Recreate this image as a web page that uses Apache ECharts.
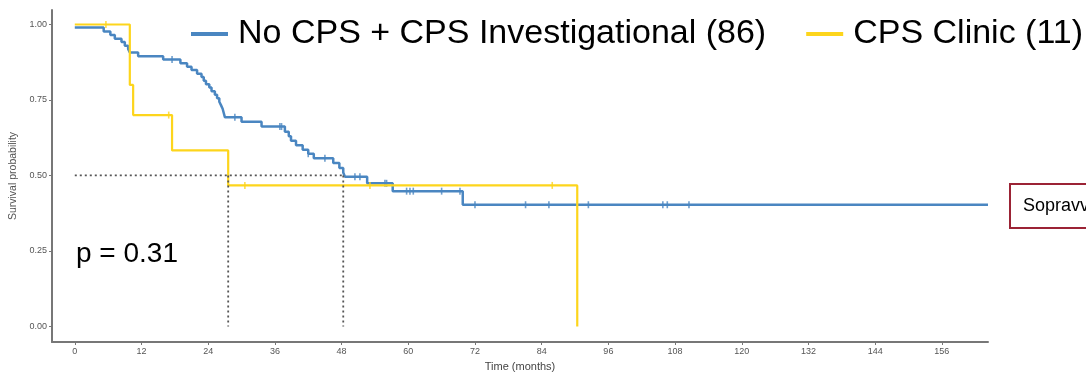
<!DOCTYPE html>
<html>
<head>
<meta charset="utf-8">
<script src="https://cdn.jsdelivr.net/npm/echarts@6/dist/echarts.min.js"></script>
<style>
  html, body { margin: 0; padding: 0; background: #fff; }
  #chart { width: 1086px; height: 373px; }
</style>
</head>
<body>
<div id="chart"></div>
<script>
// Kaplan-Meier steps: time (months) where survival drops to the value
const blueName = 'No CPS + CPS Investigational (86)'
const yellowName = 'CPS Clinic (11)'

const blueTimes = [0, 5.2, 6.4, 7.2, 8.4, 9.0, 9.6, 9.9, 11.4, 15.9, 19.0, 20.2, 21.0, 22.0, 22.8, 23.2, 23.6, 24.2, 24.6, 25.2, 25.6, 26.0, 26.3, 26.6, 26.8, 27.0, 30.0, 33.6, 37.8, 38.5, 38.9, 39.8, 41.0, 42.0, 43.0, 46.5, 47.6, 48.3, 48.6, 52.6, 57.2, 69.8, 164.3]
const blueSurv = [0.990, 0.977, 0.965, 0.953, 0.942, 0.930, 0.919, 0.907, 0.895, 0.884, 0.872, 0.860, 0.849, 0.837, 0.826, 0.814, 0.802, 0.791, 0.779, 0.767, 0.756, 0.744, 0.733, 0.721, 0.707, 0.693, 0.678, 0.662, 0.645, 0.630, 0.615, 0.600, 0.585, 0.572, 0.557, 0.541, 0.525, 0.510, 0.496, 0.474, 0.448, 0.403, 0.403]
const blueCensor = [17.5, 28.8, 36.9, 37.2, 42.0, 45.0, 50.4, 51.3, 55.8, 56.1, 59.7, 60.3, 60.9, 66.0, 69.3, 72.0, 81.1, 85.3, 92.4, 105.8, 106.6, 110.5]

const yellowTimes = [0, 9.9, 10.5, 17.5, 27.6, 90.4]
const yellowSurv = [1.0, 0.80, 0.70, 0.583, 0.467, 0]
const yellowCensor = [5.6, 16.9, 30.6, 53.1, 85.9]

const medianTimes = [27.6, 48.3]
const xTicks = [0, 12, 24, 36, 48, 60, 72, 84, 96, 108, 120, 132, 144, 156]
const yTicks = [0, 0.25, 0.5, 0.75, 1.0]
const pText = 'p = 0.31'

const blueColor = '#4a86c1'
const yellowColor = '#fdd51c'

function survAt(times, surv, t) {
    let s = surv[0]
    for (let i = 0; i < times.length; i++) {
        if (times[i] <= t) s = surv[i]
    }
    return s
}

const myChart = echarts.init(document.getElementById('chart'))

const medianLine = {
    color: '#555',
    width: 1.8,
    type: [2, 3]
}

const option = {
    animation: false,
    grid: {
        left: 52,
        right: 98,
        top: 10,
        bottom: 31,
        containLabel: false,
        outerBoundsMode: 'none'
    },
    legend: {
        data: [blueName, yellowName],
        orient: 'horizontal',
        left: 186,
        top: 12,
        width: 1000,
        icon: 'rect',
        itemWidth: 37,
        itemHeight: 4,
        itemGap: 40,
        textStyle: {
            fontSize: 34,
            fontFamily: 'Liberation Sans',
            color: '#000',
            padding: [0, 0, 0, 5]
        }
    },
    xAxis: {
        type: 'value',
        min: -4.1,
        max: 164.3,
        name: 'Time (months)',
        nameLocation: 'middle',
        nameGap: 19,
        nameTextStyle: { fontSize: 11, color: '#444', fontFamily: 'Liberation Sans' },
        splitLine: { show: false },
        axisLine: { show: true, onZero: false, lineStyle: { color: '#777', width: 2 } },
        axisTick: { show: true, length: 3, customValues: xTicks, lineStyle: { color: '#777' } },
        axisLabel: {
            customValues: xTicks,
            fontSize: 9,
            color: '#555',
            margin: 5,
            fontFamily: 'Liberation Sans'
        }
    },
    yAxis: {
        type: 'value',
        min: -0.0516,
        max: 1.048,
        name: 'Survival probability',
        nameLocation: 'middle',
        nameRotate: 90,
        nameGap: 29,
        nameTextStyle: { fontSize: 10.5, color: '#555', fontFamily: 'Liberation Sans' },
        splitLine: { show: false },
        axisLine: { show: true, onZero: false, lineStyle: { color: '#777', width: 2 } },
        axisTick: { show: true, length: 3, customValues: yTicks, lineStyle: { color: '#777' } },
        axisLabel: {
            customValues: yTicks,
            fontSize: 9,
            color: '#555',
            margin: 5,
            fontFamily: 'Liberation Sans',
            formatter: (v) => v.toFixed(2)
        }
    },
    graphic: [
        {
            type: 'text',
            left: 76,
            top: 240,
            style: { text: pText, fontSize: 28, fill: '#000', fontFamily: 'Liberation Sans' }
        },
        {
            type: 'rect',
            shape: { x: 1010, y: 184, width: 120, height: 44 },
            style: { fill: '#fff', stroke: '#9b2335', lineWidth: 2 }
        },
        {
            type: 'text',
            x: 1023,
            y: 206,
            style: { text: 'Sopravvivenza', fontSize: 18, fill: '#000', fontFamily: 'Liberation Sans', verticalAlign: 'middle' }
        }
    ],
    series: [
        {
            name: blueName,
            type: 'line',
            step: 'end',
            symbol: 'none',
            color: blueColor,
            lineStyle: { color: blueColor, width: 2.5 },
            data: blueTimes.map((t, i) => [t, blueSurv[i]]),
            z: 2
        },
        {
            name: 'blueCensor',
            type: 'scatter',
            symbol: 'rect',
            symbolSize: [1.6, 7],
            itemStyle: { color: blueColor },
            data: blueCensor.map(t => [t, survAt(blueTimes, blueSurv, t)]),
            z: 2
        },
        {
            name: yellowName,
            type: 'line',
            step: 'end',
            symbol: 'none',
            color: yellowColor,
            lineStyle: { color: yellowColor, width: 2.2 },
            data: yellowTimes.map((t, i) => [t, yellowSurv[i]]),
            z: 3
        },
        {
            name: 'yellowCensor',
            type: 'scatter',
            symbol: 'rect',
            symbolSize: [1.6, 7],
            itemStyle: { color: yellowColor },
            data: yellowCensor.map(t => [t, survAt(yellowTimes, yellowSurv, t)]),
            z: 3
        },
        {
            name: 'medianH',
            type: 'line',
            symbol: 'none',
            lineStyle: medianLine,
            data: [[0, 0.5], [Math.max(...medianTimes), 0.5]],
            z: 4
        },
        ...medianTimes.map((m, i) => ({
            name: 'medianV' + i,
            type: 'line',
            symbol: 'none',
            lineStyle: medianLine,
            data: [[m, 0.5], [m, 0]],
            z: 4
        }))
    ]
}

myChart.setOption(option)
</script>
</body>
</html>
